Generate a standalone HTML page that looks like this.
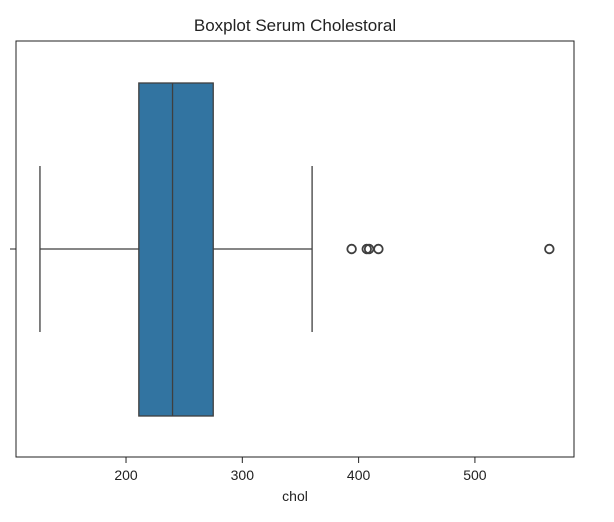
<!DOCTYPE html>
<html><head><meta charset="utf-8"><style>
body{margin:0;background:#fff;font-family:"Liberation Sans","DejaVu Sans",sans-serif}
</style></head><body>
<svg id="chart" width="614" height="517" viewBox="0 0 614 517" xmlns="http://www.w3.org/2000/svg">
<text x="295" y="31" font-size="17" text-anchor="middle" fill="#222">Boxplot Serum Cholestoral</text>
<g id="marks"></g>
<rect x="16" y="41" width="558" height="416" fill="none" stroke="#222" stroke-width="1"/>
<line x1="10" y1="249" x2="16" y2="249" stroke="#222"/>
<g id="xticks"></g>
<text x="295" y="501" font-size="14" text-anchor="middle" fill="#222">chol</text>
</svg>
<script>
const stats = {min:126, q1:211, median:240, q3:275, max:360};
const outliers = [394, 407, 409, 417, 564];
const tickValues = [200, 300, 400, 500];
const tickLabels = ["200", "300", "400", "500"];

const X0=16, X1=574, D0=105.4, D1=585.2;
function x(v){return X0+(v-D0)/(D1-D0)*(X1-X0);}
const ns="http://www.w3.org/2000/svg";
function mk(tag,attrs,parent){const e=document.createElementNS(ns,tag);for(const k in attrs)e.setAttribute(k,attrs[k]);parent.appendChild(e);return e;}
const g=document.getElementById('marks'), tg=document.getElementById('xticks');
const cy=249, bTop=83, bBot=416, cTop=166, cBot=332, stroke="#3f3f3f";

let w1=mk('line',{x1:x(stats.min),y1:cy,x2:x(stats.q1),y2:cy,stroke:stroke,'stroke-width':1.3},g);


let w2=mk('line',{x1:x(stats.q3),y1:cy,x2:x(stats.max),y2:cy,stroke:stroke,'stroke-width':1.3},g);


let c1=mk('line',{x1:x(stats.min),y1:cTop,x2:x(stats.min),y2:cBot,stroke:stroke,'stroke-width':1.3},g);


let c2=mk('line',{x1:x(stats.max),y1:cTop,x2:x(stats.max),y2:cBot,stroke:stroke,'stroke-width':1.3},g);


let box=mk('rect',{x:x(stats.q1),y:bTop,width:x(stats.q3)-x(stats.q1),height:bBot-bTop,fill:"#3274a1",stroke:stroke,'stroke-width':1.3},g);


let med=mk('line',{x1:x(stats.median),y1:bTop,x2:x(stats.median),y2:bBot,stroke:stroke,'stroke-width':1.3},g);


outliers.forEach(v=>{
  let c=mk('circle',{cx:x(v),cy:cy,r:4.3,fill:"none",stroke:stroke,'stroke-width':1.8},g);
  
  
});
tickValues.forEach((v,i)=>{
  let t=mk('line',{x1:x(v),y1:457,x2:x(v),y2:463,stroke:"#222"},tg);
  
  
  let l=mk('text',{x:x(v),y:480,'font-size':14,'text-anchor':'middle',fill:'#222'},tg);
  l.textContent=tickLabels[i];
  
  
});
</script>
</body></html>
